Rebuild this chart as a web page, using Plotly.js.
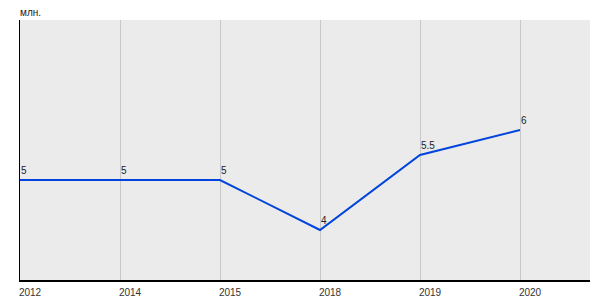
<!DOCTYPE html>
<html>
<head>
<meta charset="utf-8">
<script src="https://cdn.plot.ly/plotly-3.0.1.min.js"></script>
<style>html,body{margin:0;padding:0;background:#fff;}#chart{width:600px;height:300px;}</style>
</head>
<body>
<div id="chart"></div>
<script>
const years = ['2012', '2014', '2015', '2018', '2019', '2020'];
const values = [5, 5, 5, 4, 5.5, 6];
const valueLabels = ['5', '5', '5', '4', '5.5', '6'];
const unitLabel = 'млн.';

const trace = {
  type: 'scatter',
  mode: 'lines',
  x: years,
  y: values,
  line: {color: '#0044dd', width: 2},
  cliponaxis: false,
  hoverinfo: 'skip'
};

// category axis: annotations are placed by category serial number
const labelAnnotations = years.map((yr, i) => ({
  x: i, y: values[i],
  xref: 'x', yref: 'y',
  text: valueLabels[i],
  showarrow: false,
  xanchor: 'left', yanchor: 'bottom',
  xshift: -1, yshift: 2,
  font: {size: 10, color: '#222'}
}));

const layout = {
  width: 600,
  height: 300,
  margin: {l: 20, r: 10, t: 20, b: 20},
  paper_bgcolor: '#ffffff',
  plot_bgcolor: '#ebebeb',
  showlegend: false,
  font: {family: 'Liberation Sans, Arial, sans-serif', size: 10, color: '#333'},
  xaxis: {
    type: 'category',
    range: [0, 5.7],
    showgrid: true,
    gridcolor: '#c8c8c8',
    gridwidth: 1,
    showline: true,
    linecolor: '#000',
    linewidth: 1.5,
    ticks: '',
    ticklabelshift: 10,
    ticklabelstandoff: 2,
    tickfont: {size: 10, color: '#333'},
    zeroline: false,
    fixedrange: true
  },
  yaxis: {
    range: [3, 8.2],
    showgrid: false,
    showticklabels: false,
    showline: true,
    linecolor: '#000',
    linewidth: 1.5,
    ticks: '',
    zeroline: false,
    fixedrange: true
  },
  annotations: [{
    text: unitLabel,
    xref: 'paper', yref: 'paper',
    x: 0, y: 1,
    xanchor: 'left', yanchor: 'bottom',
    xshift: -2,
    showarrow: false,
    font: {size: 10, color: '#222'}
  }].concat(labelAnnotations)
};

Plotly.newPlot('chart', [trace], layout, {displayModeBar: false, staticPlot: true});
</script>
</body>
</html>
